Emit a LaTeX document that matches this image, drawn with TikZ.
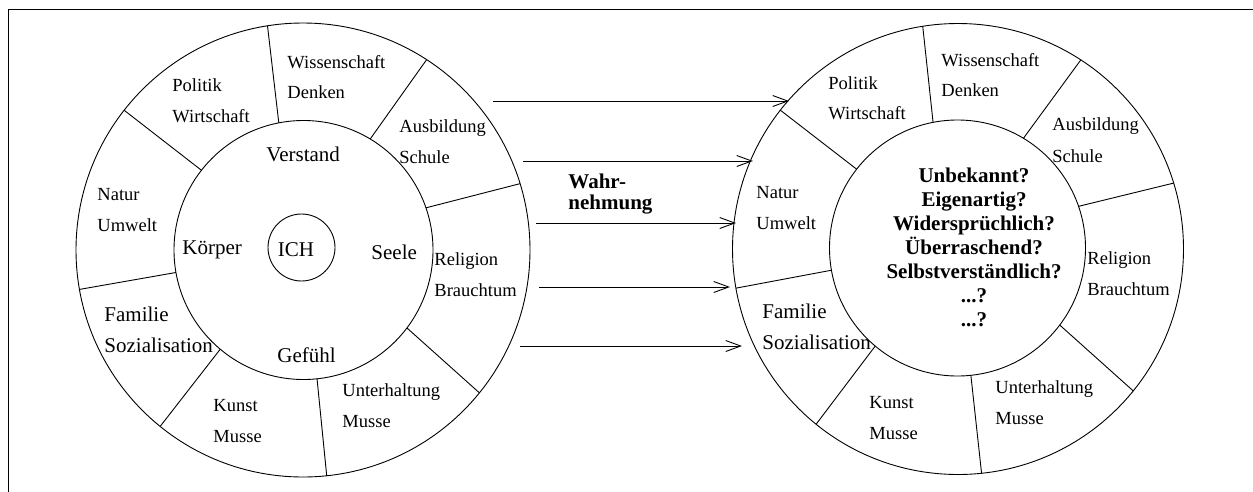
\documentclass[tikz,border=0pt]{standalone}
\usepackage{fontspec}
\setmainfont{Liberation Serif}
\usetikzlibrary{arrows.meta}
\begin{document}
\begin{tikzpicture}[x=1pt,y=-1pt, line width=0.9pt,
  ring/.style={circle,draw,inner sep=0pt,outer sep=0pt},
  lbl/.style={anchor=base west,inner sep=0pt,font=\fontsize{18.5}{20}\selectfont},
  lblL/.style={anchor=base west,inner sep=0pt,font=\fontsize{21}{22}\selectfont},
  qtext/.style={anchor=base,inner sep=0pt,font=\fontsize{21}{22}\selectfont\bfseries},
  flow/.style={-{Straight Barb[length=15pt,width=11pt]}}]
\useasboundingbox (0,0) rectangle (1253,491);
\clip (0,0) rectangle (1253,491);
% frame
\draw (8,500) -- (8,9) -- (1260,9);

% left wheel
\node[ring,minimum size=454pt] (Lo) at (303,250) {};
\node[ring,minimum size=259pt] (Li) at (303.5,250) {};
\node[ring,minimum size=67pt] (Lc) at (301.5,247.5) {};
% right wheel
\node[ring,minimum size=451pt] (Ro) at (958,249) {};
\node[ring,minimum size=256pt] (Ri) at (957.5,248) {};

\foreach \a/\b in {101.5/99.4, 59.5/57.5, 19/17, 323/321.5, 276.3/276.7, 230.3/231.7, 190.3/190.6, 142.8/142.3}{
  \draw (Li.\a) -- (Lo.\b);
  \draw (Ri.\a) -- (Ro.\b);
}

% left labels
\node[lbl] (l1a) at (172,91) {Politik};
\node[lbl] (l1b) at (172,122) {Wirtschaft};
\node[lbl] (l2a) at (287,68) {Wissenschaft};
\node[lbl] (l2b) at (287,98) {Denken};
\node[lbl] (l3a) at (399,132) {Ausbildung};
\node[lbl] (l3b) at (399,163) {Schule};
\node[lbl] (l4a) at (97,200) {Natur};
\node[lbl] (l4b) at (97,231) {Umwelt};
\node[lbl] (l5a) at (434,265) {Religion};
\node[lbl] (l5b) at (434,296) {Brauchtum};
\node[lblL] (l6a) at (104,321) {Familie};
\node[lblL] (l6b) at (104,352) {Sozialisation};
\node[lbl] (l7a) at (213,411) {Kunst};
\node[lbl] (l7b) at (213,442) {Musse};
\node[lbl] (l8a) at (342,396) {Unterhaltung};
\node[lbl] (l8b) at (342,427) {Musse};
\node[lblL] (lv) at (266,161) {Verstand};
\node[lblL] (lk) at (182,254) {Körper};
\node[lblL] (ls) at (371,259) {Seele};
\node[lblL] (lg) at (277,362) {Gefühl};
\node[lblL,anchor=base] (lich) at (296,256) {ICH};

% right labels
\node[lbl] (r1a) at (828,89) {Politik};
\node[lbl] (r1b) at (828,119) {Wirtschaft};
\node[lbl] (r2a) at (941,66) {Wissenschaft};
\node[lbl] (r2b) at (941,96) {Denken};
\node[lbl] (r3a) at (1052,130) {Ausbildung};
\node[lbl] (r3b) at (1052,162) {Schule};
\node[lbl] (r4a) at (756,198) {Natur};
\node[lbl] (r4b) at (756,229) {Umwelt};
\node[lbl] (r5a) at (1087,264) {Religion};
\node[lbl] (r5b) at (1087,295) {Brauchtum};
\node[lblL] (r6a) at (762,318) {Familie};
\node[lblL] (r6b) at (762,349) {Sozialisation};
\node[lbl] (r7a) at (869,408) {Kunst};
\node[lbl] (r7b) at (869,439) {Musse};
\node[lbl] (r8a) at (995,393) {Unterhaltung};
\node[lbl] (r8b) at (995,424) {Musse};

\node[qtext] (q1) at (974,182) {Unbekannt?};
\node[qtext] (q2) at (974,206) {Eigenartig?};
\node[qtext] (q3) at (974,230) {Widersprüchlich?};
\node[qtext] (q4) at (974,254) {Überraschend?};
\node[qtext] (q5) at (974,278) {Selbstverständlich?};
\node[qtext] (q6) at (974,302) {...?};
\node[qtext] (q7) at (974,326) {...?};

% Wahrnehmung
\node[anchor=base west,inner sep=0pt,font=\fontsize{21}{22}\selectfont\bfseries] (w1) at (568,188) {Wahr-};
\node[anchor=base west,inner sep=0pt,font=\fontsize{21}{22}\selectfont\bfseries] (w2) at (568,209) {nehmung};

% arrows
\coordinate (s1) at (493,101); \coordinate (e1) at (789,101);
\coordinate (s2) at (523,161); \coordinate (e2) at (753,161);
\coordinate (s3) at (536,223); \coordinate (e3) at (736,223);
\coordinate (s4) at (539,287); \coordinate (e4) at (730,287);
\coordinate (s5) at (520,346); \coordinate (e5) at (742,346);
\foreach \i in {1,...,5}{\draw[flow] (s\i) -- (e\i);}
\end{tikzpicture}
\end{document}
